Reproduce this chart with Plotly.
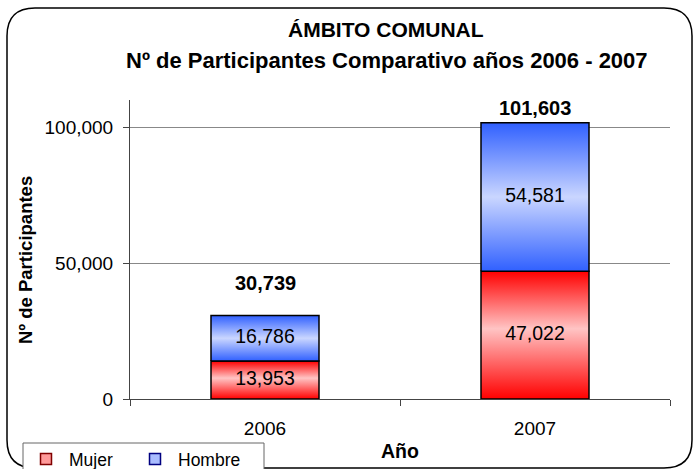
import plotly.graph_objects as go

# data
years = ["2006", "2007"]
mujer = [13953, 47022]
hombre = [16786, 54581]
totals = [m + h for m, h in zip(mujer, hombre)]

FONT = "Liberation Sans, Arial, sans-serif"
BAR_HALF = 0.2

SERIES = [
    ("Mujer", mujer, [[0, "#ff0000"], [0.55, "#ffc4c4"], [1, "#ff0000"]], "#ff9a9a", "#800000"),
    ("Hombre", hombre, [[0, "#3060ff"], [0.5, "#cad6ff"], [1, "#3060ff"]], "#a9bcff", "#000080"),
]

# plot area in pixels
L, T, W, H = 130, 100, 540, 299


def px(x):
    return (x - L) / W


def py(y):
    return (T + H - y) / H


fig = go.Figure()

base = [0] * len(years)
for name, values, scale, solid, edge in SERIES:
    for i, v in enumerate(values):
        x0, x1 = i - BAR_HALF, i + BAR_HALF
        y0, y1 = base[i], base[i] + v
        fig.add_trace(go.Scatter(
            x=[x0, x1, x1, x0, x0],
            y=[y0, y0, y1, y1, y0],
            mode="lines",
            fill="toself",
            fillcolor=solid,
            fillgradient=dict(type="vertical", colorscale=scale),
            line=dict(color="black", width=1.5),
            showlegend=False,
            hoverinfo="skip",
        ))
    # legend entry (small square)
    fig.add_trace(go.Scatter(
        x=[None], y=[None], mode="markers", name=name,
        marker=dict(symbol="square", size=11, color=solid, line=dict(color=edge, width=1.5)),
    ))
    # segment labels
    fig.add_trace(go.Scatter(
        x=list(range(len(years))),
        y=[b + v / 2 for b, v in zip(base, values)],
        mode="text",
        text=[f"{v:,}" for v in values],
        textfont=dict(family=FONT, size=19.5, color="black"),
        showlegend=False,
        hoverinfo="skip",
    ))
    base = [b + v for b, v in zip(base, values)]

# totals above the bars
total_shift = [19, 2]
for i, t in enumerate(totals):
    fig.add_annotation(
        x=i, y=t, text=f"<b>{t:,}</b>", showarrow=False,
        yanchor="bottom", yshift=total_shift[i],
        font=dict(family=FONT, size=20, color="black"),
    )

# titles
fig.add_annotation(
    xref="paper", yref="paper", x=px(386), y=py(30), xanchor="center", yanchor="middle",
    text="<b>ÁMBITO COMUNAL</b>", showarrow=False,
    font=dict(family=FONT, size=21, color="black"),
)
fig.add_annotation(
    xref="paper", yref="paper", x=px(387), y=py(60), xanchor="center", yanchor="middle",
    text="<b>Nº de Participantes Comparativo años 2006 - 2007</b>", showarrow=False,
    font=dict(family=FONT, size=22, color="black"),
)
# axis titles
fig.add_annotation(
    xref="paper", yref="paper", x=px(25), y=py(260), xanchor="center", yanchor="middle",
    textangle=-90, text="<b>Nº de Participantes</b>", showarrow=False,
    font=dict(family=FONT, size=18.5, color="black"),
)
fig.add_annotation(
    xref="paper", yref="paper", x=px(400), y=py(451), xanchor="center", yanchor="middle",
    text="<b>Año</b>", showarrow=False,
    font=dict(family=FONT, size=19.5, color="black"),
)

# outer rounded frame
r = 28
x0f, x1f, y0f, y1f = 7, 692, 8, 468
path = (
    f"M {px(x0f + r)},{py(y0f)} L {px(x1f - r)},{py(y0f)} "
    f"Q {px(x1f)},{py(y0f)} {px(x1f)},{py(y0f + r)} "
    f"L {px(x1f)},{py(y1f - r)} Q {px(x1f)},{py(y1f)} {px(x1f - r)},{py(y1f)} "
    f"L {px(x0f + r)},{py(y1f)} Q {px(x0f)},{py(y1f)} {px(x0f)},{py(y1f - r)} "
    f"L {px(x0f)},{py(y0f + r)} Q {px(x0f)},{py(y0f)} {px(x0f + r)},{py(y0f)} Z"
)
fig.add_shape(type="path", xref="paper", yref="paper", path=path,
              line=dict(color="black", width=1.5), layer="below")
# legend box
fig.add_shape(type="rect", xref="paper", yref="paper",
              x0=px(23), x1=px(264), y0=py(480), y1=py(443),
              line=dict(color="#666666", width=1), fillcolor="white", layer="below")

fig.update_layout(
    width=694,
    height=469,
    paper_bgcolor="white",
    plot_bgcolor="white",
    font=dict(family=FONT, size=19, color="black"),
    margin=dict(l=L, r=694 - L - W, t=T, b=469 - T - H, autoexpand=False),
    showlegend=True,
    legend=dict(
        orientation="h",
        x=px(23), xanchor="left",
        y=py(441), yanchor="top",
        borderwidth=0,
        bgcolor="rgba(0,0,0,0)",
        font=dict(family=FONT, size=17.5, color="black"),
        itemwidth=36,
        entrywidth=58,
    ),
    xaxis=dict(
        range=[-0.5, len(years) - 0.5],
        tickmode="array",
        tickvals=list(range(len(years))),
        ticktext=years,
        ticks="",
        ticklabelstandoff=12,
        showgrid=False,
        zeroline=False,
        showline=True,
        linecolor="#444444",
        linewidth=1,
        minor=dict(tickmode="linear", tick0=-0.5, dtick=1, ticks="outside",
                   ticklen=6, tickcolor="#444444", showgrid=False),
        tickfont=dict(family=FONT, size=19),
        fixedrange=True,
    ),
    yaxis=dict(
        range=[0, 110000],
        tickmode="linear",
        tick0=0,
        dtick=50000,
        tickformat=",",
        ticks="outside",
        ticklen=6,
        tickcolor="#444444",
        ticklabelstandoff=6,
        showgrid=True,
        gridcolor="#888888",
        gridwidth=1,
        zeroline=False,
        showline=True,
        linecolor="#444444",
        linewidth=1,
        tickfont=dict(family=FONT, size=19),
        fixedrange=True,
    ),
)

# the page's default body margin would offset the figure by 8px
fig.write_html("out.html", config={"displayModeBar": False},
               post_script="document.body.style.margin = '0';")
